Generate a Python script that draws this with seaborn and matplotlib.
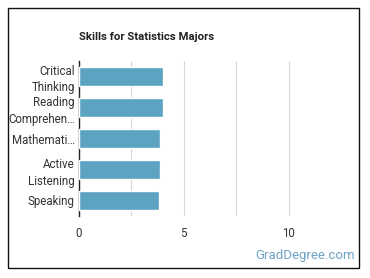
import matplotlib
matplotlib.use("Agg")
import matplotlib.pyplot as plt
import matplotlib.patches as patches
import pandas as pd
import seaborn as sns

skills = ["Critical\nThinking", "Reading\nComprehen…", "Mathemati…", "Active\nListening", "Speaking"]
scores = [4.0, 4.0, 3.86, 3.86, 3.82]
xticks = [0, 5, 10]

sns.set_style("white")
plt.rcParams["font.family"] = ["Roboto", "DejaVu Sans"]

df = pd.DataFrame({"skill": skills, "score": scores})

fig = plt.figure(figsize=(3.7, 2.78), dpi=100)
ax = fig.add_axes([79 / 370, 1 - 216 / 278, (341 - 79) / 370, (216 - 61) / 278])

sns.barplot(data=df, x="score", y="skill", color="#5ba3c1", width=0.62,
            saturation=1, ax=ax, zorder=3)

ax.set_xlim(0, 12.5)
ax.set_xticks([0, 2.5, 5, 7.5, 10])
ax.set_xticklabels(["0", "", "5", "", "10"])
ax.grid(axis="x", color="#d9d9d9", linewidth=0.8, zorder=0)
ax.set_xlabel("")
ax.set_ylabel("")
for s in ["top", "right", "bottom"]:
    ax.spines[s].set_visible(False)
ax.spines["left"].set_color("#222222")
ax.spines["left"].set_linewidth(1.0)
ax.tick_params(axis="both", length=0, labelsize=8.3, labelcolor="#333333", pad=3)
ax.tick_params(axis="x", pad=8)
for lbl in ax.get_yticklabels():
    lbl.set_linespacing(1.35)

fig.text(79 / 370, 1 - 37 / 278, "Skills for Statistics Majors", fontsize=8.2,
         fontweight="bold", color="#222222", va="center", ha="left")
fig.text(355 / 370, 1 - 255 / 278, "GradDegree.com", fontsize=9.5,
         color="#6fa3c4", va="center", ha="right")

border = patches.Rectangle((8 / 370, 1 - 268 / 278), (359 - 8) / 370, (268 - 8) / 278,
                           transform=fig.transFigure, fill=False,
                           edgecolor="#111111", linewidth=1.0)
fig.patches.append(border)

fig.savefig("out.png", dpi=100)
